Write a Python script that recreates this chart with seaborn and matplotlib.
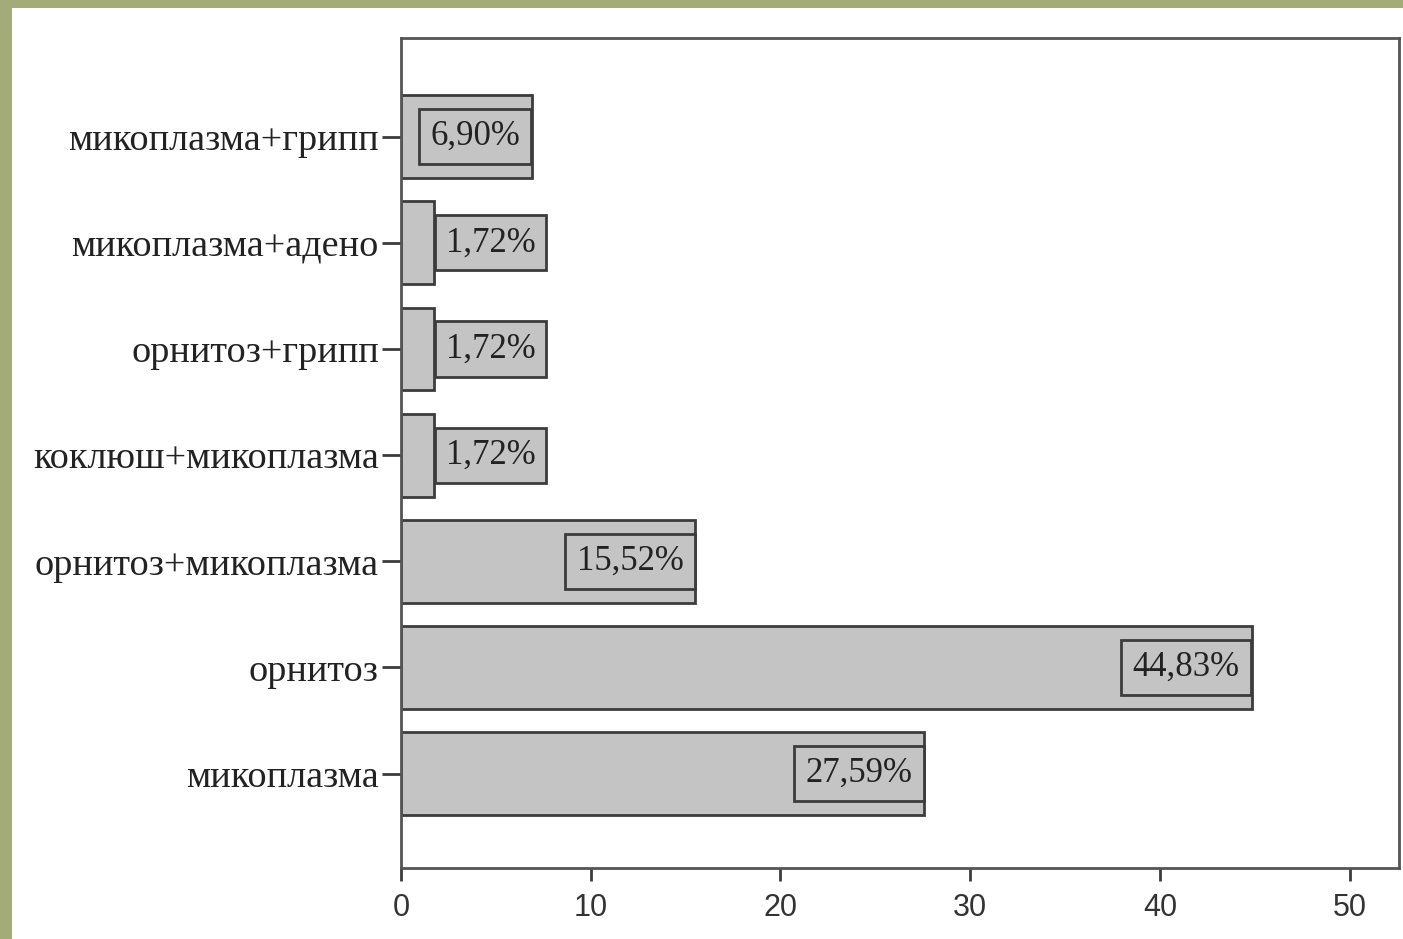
import matplotlib
matplotlib.use('Agg')
import matplotlib.pyplot as plt
from matplotlib.patches import Rectangle
import seaborn as sns

# data (percent of cases)
categories = ['микоплазма+грипп', 'микоплазма+адено', 'орнитоз+грипп',
              'коклюш+микоплазма', 'орнитоз+микоплазма', 'орнитоз', 'микоплазма']
values = [6.90, 1.72, 1.72, 1.72, 15.52, 44.83, 27.59]
labels = ['6,90%', '1,72%', '1,72%', '1,72%', '15,52%', '44,83%', '27,59%']
xticks = [0, 10, 20, 30, 40, 50]

sns.set_style('white')
plt.rcParams['font.family'] = ['Liberation Serif', 'DejaVu Serif']

W, H = 1403, 939
fig = plt.figure(figsize=(W / 100, H / 100), dpi=100, facecolor='#a3ab78')
# white sheet on the olive frame
fig.patches.append(Rectangle((12 / W, 0), 1, (H - 8) / H, transform=fig.transFigure,
                             facecolor='white', edgecolor='none', zorder=-1))

ax = fig.add_axes([401 / W, (H - 868) / H, (1399 - 401) / W, (868 - 38) / H])
ax.set_facecolor('white')

bar_fill = '#c4c4c4'
dark = '#3c3c3c'
sns.barplot(x=values, y=categories, orient='h', color=bar_fill, saturation=1,
            edgecolor=dark, linewidth=2, width=0.78, ax=ax)

ax.set_xlim(0, 52.6)
ax.set_ylim(6.89, -0.93)
ax.set_xticks(xticks)
ax.set_xlabel('')
ax.set_ylabel('')

for spine in ax.spines.values():
    spine.set_visible(True)
    spine.set_color('#555555')
    spine.set_linewidth(2)

ax.tick_params(axis='y', direction='out', length=14, width=2, color=dark,
               labelsize=27.5, pad=2, left=True)
ax.tick_params(axis='x', direction='out', length=9, width=2, color=dark,
               labelsize=22, pad=9, bottom=True)
for t in ax.get_yticklabels():
    t.set_color('#222222')
for t in ax.get_xticklabels():
    t.set_family(['Liberation Sans Narrow', 'Liberation Sans', 'DejaVu Sans'])
    t.set_color('#333333')

# percent labels in boxes at the bar ends
for i, (v, lab) in enumerate(zip(values, labels)):
    box = dict(boxstyle='square,pad=0.32', fc=bar_fill, ec=dark, lw=2)
    if v > 5:
        ax.annotate(lab, xy=(v, i), xytext=(-12, 0), textcoords='offset pixels',
                    ha='right', va='center', fontsize=25, color='#222222', bbox=box)
    else:
        ax.annotate(lab, xy=(v, i), xytext=(12, 0), textcoords='offset pixels',
                    ha='left', va='center', fontsize=25, color='#222222', bbox=box)

fig.savefig('out.png', dpi=100, facecolor=fig.get_facecolor())
